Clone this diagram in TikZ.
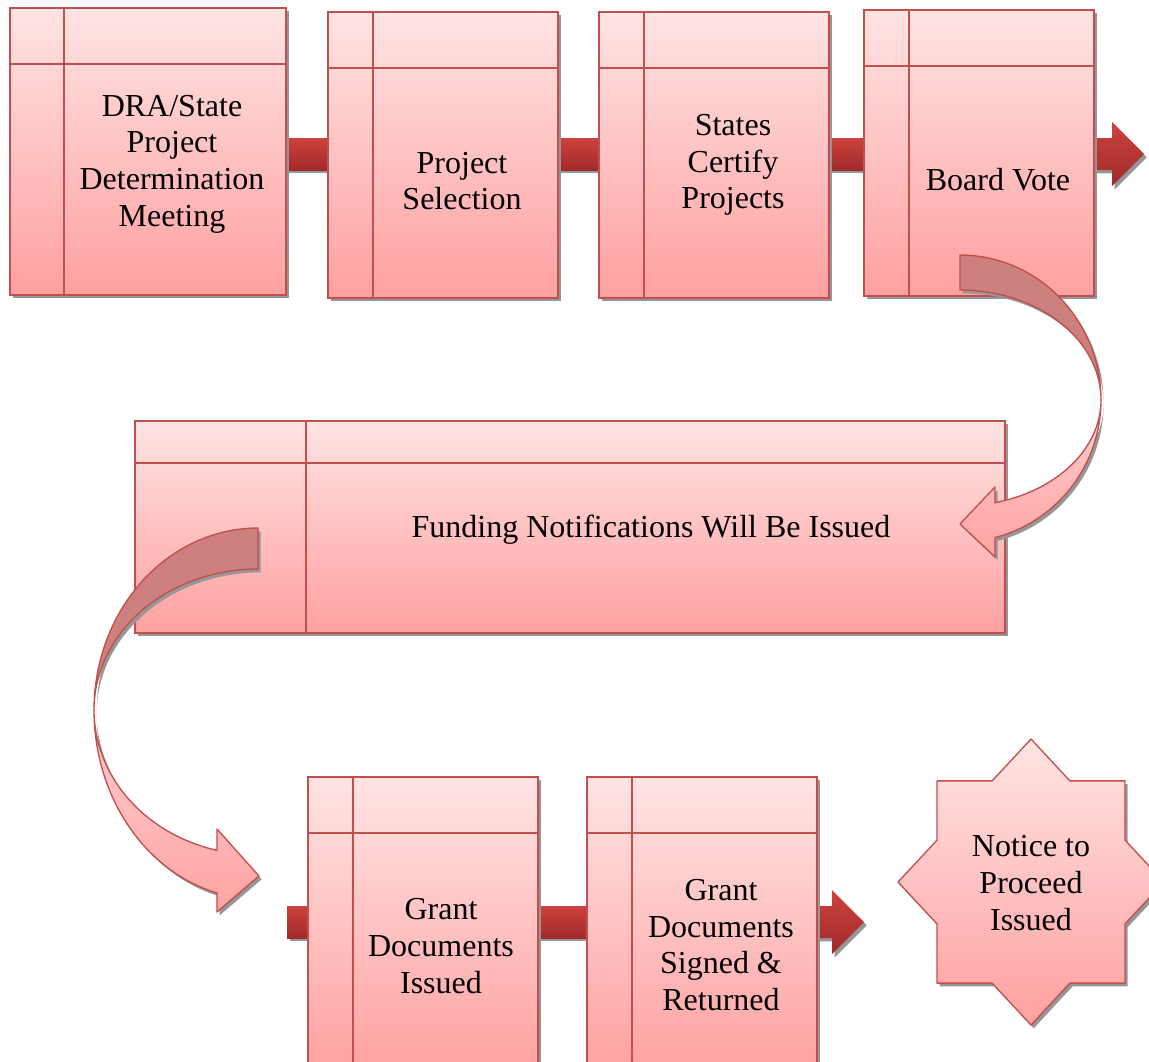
\documentclass[tikz,border=0pt]{standalone}
\usepackage{fontspec}
\setmainfont{Liberation Serif}
\usetikzlibrary{shadows,calc}
\definecolor{edgeC}{RGB}{192,80,77}
\definecolor{boxT}{RGB}{255,228,228}
\definecolor{boxB}{RGB}{255,160,160}
\definecolor{barT}{RGB}{205,66,62}
\definecolor{barB}{RGB}{160,42,42}
\definecolor{darkC}{RGB}{205,128,126}
\definecolor{arrT}{RGB}{255,208,208}
\definecolor{arrB}{RGB}{255,163,163}
\definecolor{shad}{RGB}{150,150,150}
\pgfdeclarelayer{bg}
\pgfsetlayers{bg,main}
\begin{document}
\begin{tikzpicture}[x=0.75pt,y=-0.75pt,
  shd/.style={drop shadow={shadow xshift=2pt,shadow yshift=-2.5pt,fill=shad,opacity=1}},
  box/.style={draw=edgeC,line width=1pt,top color=boxT,bottom color=boxB,inner sep=0pt,outer sep=0pt,shd},
  edgeline/.style={draw=edgeC,line width=1pt},
  bar/.style={top color=barT,bottom color=barB,shd},
  darkpart/.style={fill=darkC,draw=edgeC,line width=1pt,line join=round,shd},
  lightpart/.style={top color=arrT,bottom color=arrB,draw=edgeC,line width=1pt,line join=round,shd},
  txt/.style={align=center,inner sep=0pt,font=\fontsize{24}{27.5}\selectfont}]
\useasboundingbox (0,0) rectangle (1149,1061);
\clip (0,0) rectangle (1149,1061);
\coordinate (y138) at (0,138);
\coordinate (y170) at (0,170);
\coordinate (y906) at (0,906);
\coordinate (y938) at (0,938);

% boxes
\node[box,minimum width=207pt,minimum height=215.25pt] (b1) at (148,151.5) {};
\node[box,minimum width=172.5pt,minimum height=214.5pt] (b2) at (443,155) {};
\node[box,minimum width=172.5pt,minimum height=214.5pt] (b3) at (714,155) {};
\node[box,minimum width=172.5pt,minimum height=214.5pt] (b4) at (979,153) {};
\node[box,minimum width=652.5pt,minimum height=159pt] (bm) at (570,527) {};
\node[box,minimum width=172.5pt,minimum height=223.5pt] (b5) at (423,926) {};
\node[box,minimum width=172.5pt,minimum height=223.5pt] (b6) at (702,926) {};

% inner lines
\draw[edgeline] ($(b1.north west)+(54,0)$) -- ($(b1.south west)+(54,0)$);
\draw[edgeline] ($(b1.north west)+(0,56)$) -- ($(b1.north east)+(0,56)$);
\foreach \b in {b2,b3,b4,b5,b6}{
  \draw[edgeline] ($(\b.north west)+(45,0)$) -- ($(\b.south west)+(45,0)$);
  \draw[edgeline] ($(\b.north west)+(0,56)$) -- ($(\b.north east)+(0,56)$);
}
\draw[edgeline] ($(bm.north west)+(171,0)$) -- ($(bm.south west)+(171,0)$);
\draw[edgeline] ($(bm.north west)+(0,42)$) -- ($(bm.north east)+(0,42)$);

% straight connectors (behind boxes)
\coordinate (tip4) at (1144,154);
\coordinate (in5) at (287,906);
\coordinate (tip6) at (864,922);
\begin{pgfonlayer}{bg}
\path[bar] (b1.east |- y138) rectangle (b2.west |- y170);
\path[bar] (b2.east |- y138) rectangle (b3.west |- y170);
\path[bar] (b3.east |- y138) rectangle (b4.west |- y170);
\path[bar] (b4.east |- y138) -- (1112,138) -- (1112,122) -- (tip4) -- (1112,186) -- (1112,170) -- (b4.east |- y170) -- cycle;
\path[bar] (in5) rectangle (b5.west |- y938);
\path[bar] (b5.east |- y906) rectangle (b6.west |- y938);
\path[bar] (b6.east |- y906) -- (832,906) -- (832,890) -- (tip6) -- (832,954) -- (832,938) -- (b6.east |- y938) -- cycle;
\end{pgfonlayer}

% curved arrow 1 (Board Vote -> Funding)
\path[darkpart] plot[domain=-90:0,samples=40,variable=\t] ({960+141*cos(\t)},{400+145*sin(\t)})
  -- plot[domain=0:-90,samples=40,variable=\t] ({960+141*cos(\t)},{400+110*sin(\t)}) -- cycle;
\path[lightpart] plot[domain=0:75.6,samples=40,variable=\t] ({960+141*cos(\t)},{400+142*sin(\t)})
  -- (995,557) -- (960,524) -- (995,487) -- (995,503)
  -- plot[domain=75.6:0,samples=40,variable=\t] ({960+141*cos(\t)},{400+106*sin(\t)}) -- cycle;

% curved arrow 2 (Funding -> Grant Documents Issued)
\path[darkpart] plot[domain=-90:-180,samples=40,variable=\t] ({258+164*cos(\t)},{710+182*sin(\t)})
  -- plot[domain=-180:-90,samples=40,variable=\t] ({258+164*cos(\t)},{710+141*sin(\t)}) -- cycle;
\path[lightpart] plot[domain=180:104.5,samples=40,variable=\t] ({258+164*cos(\t)},{710+189*sin(\t)})
  -- (217,912) -- (259,876) -- (217,829) -- (217,850)
  -- plot[domain=104.5:180,samples=40,variable=\t] ({258+164*cos(\t)},{710+145*sin(\t)}) -- cycle;

% star
\path[lightpart,top color=boxT,bottom color=boxB] (1164,882) -- (1125,923.9) -- (1125,983.1) -- (1069.9,983.1)
  -- (1031,1025) -- (992.1,983.1) -- (937,983.1) -- (937,923.9) -- (898,882)
  -- (937,840.1) -- (937,780.9) -- (992.1,780.9) -- (1031,739) -- (1069.9,780.9)
  -- (1125,780.9) -- (1125,840.1) -- cycle;

% texts
\node[txt] (t1) at (172,164) {DRA/State\\Project\\Determination\\Meeting};
\node[txt] (t2) at (462,181) {Project\\Selection};
\node[txt] (t3) at (733,165) {States\\Certify\\Projects};
\node[txt] (t4) at (998,180) {Board Vote};
\node[txt] (tm) at (651,530) {Funding Notifications Will Be Issued};
\node[txt] (t5) at (441,946) {Grant\\Documents\\Issued};
\node[txt] (t6) at (721,945) {Grant\\Documents\\Signed \&\\Returned};
\node[txt] (t7) at (1031,883) {Notice to\\Proceed\\Issued};
\end{tikzpicture}
\end{document}
